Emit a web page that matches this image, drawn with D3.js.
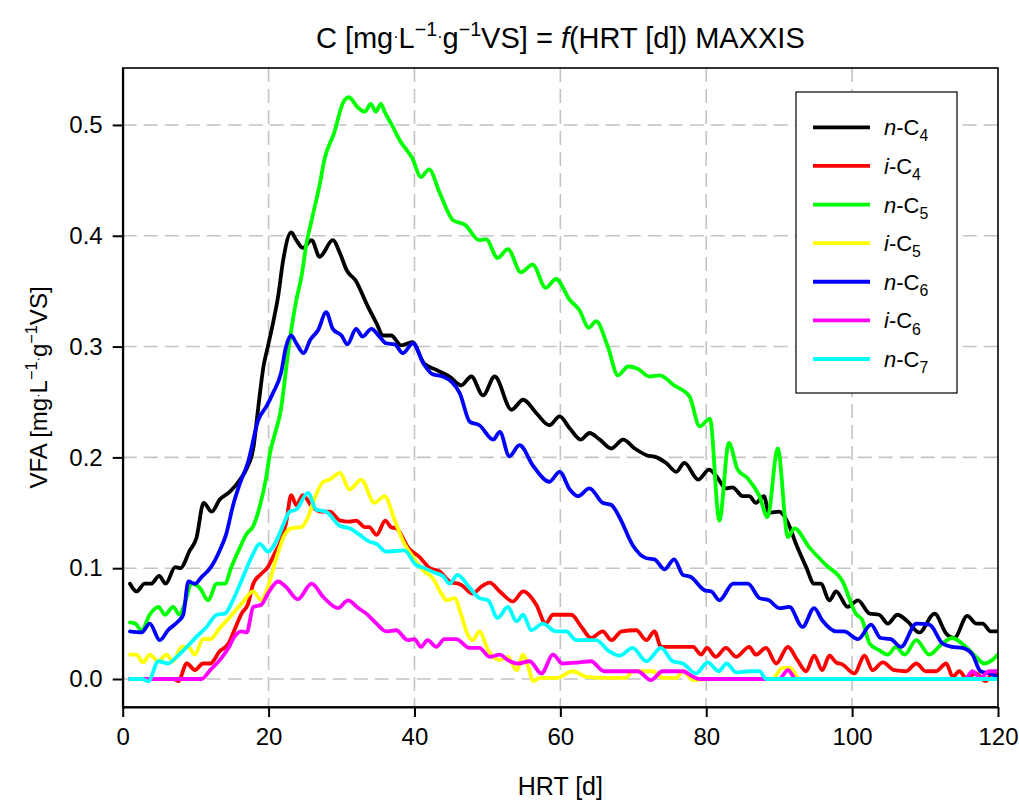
<!DOCTYPE html>
<html>
<head>
<meta charset="utf-8">
<title>VFA vs HRT</title>
<script src="https://d3js.org/d3.v7.min.js"></script>
<style>
  body { margin: 0; background: #fff; }
  svg { display: block; font-family: "Liberation Sans", Arial, sans-serif; }
  .grid line { stroke: #c4c4c4; stroke-width: 1.6; stroke-dasharray: 14,7; }
  .axis text { font-size: 24px; fill: #000; }
  .axis line, .axis path { stroke: #000; stroke-width: 2; }
  .serie { fill: none; stroke-width: 3.8; stroke-linejoin: round; stroke-linecap: round; }
</style>
</head>
<body>
<svg id="chart" width="1019" height="801"></svg>
<script>
// ---- datos: [HRT (d), C (mg/L/gVS)] ----
const nC4 = [[1,.086],[1.9,.079],[3,.086],[3.9,.086],[5,.093],[5.9,.086],[7.2,.101],[7.9,.100],[9.2,.116],[10.1,.127],[11.1,.159],[12.2,.151],[13.3,.162],[14.7,.169],[16.1,.180],[17,.190],[17.9,.208],[18.6,.246],[19.3,.282],[19.9,.300],[20.6,.321],[21.3,.345],[22,.378],[23.1,.403],[23.8,.396],[24.7,.389],[25.9,.396],[27,.381],[28.8,.396],[29.8,.384],[30.7,.369],[32,.359],[33.4,.339],[34.8,.321],[35.7,.310],[36.8,.310],[38.2,.301],[39.7,.304],[41.3,.285],[43,.279],[44.8,.273],[46.4,.265],[47.8,.273],[49.4,.256],[51,.273],[53.3,.243],[54.9,.252],[56.7,.240],[58.5,.229],[59.9,.237],[61.3,.226],[62.8,.216],[64,.222],[65.4,.216],[67,.208],[68.6,.216],[70.2,.208],[71.8,.202],[73.2,.200],[74.5,.195],[75.9,.187],[77,.195],[78.9,.180],[80.4,.189],[81.4,.183],[82.7,.172],[83.6,.173],[85,.165],[85.9,.165],[86.8,.159],[87.9,.165],[88.6,.150],[90,.151],[91.2,.141],[92.3,.122],[93.7,.101],[94.8,.086],[95.7,.086],[96.9,.071],[97.8,.079],[99.4,.065],[100.8,.071],[102.4,.059],[103.7,.058],[104.9,.050],[106.2,.058],[107.6,.052],[109.2,.042],[111.3,.059],[112.9,.041],[114,.037],[115.8,.057],[117,.050],[117.9,.050],[119,.043],[120,.043]];
const iC4 = [[1,0],[7,0],[7.6,-.002],[8.8,.014],[9.9,.008],[11,.014],[12,.014],[13.3,.025],[14.5,.032],[15.3,.044],[16.3,.059],[17.2,.068],[17.9,.086],[19,.095],[19.9,.101],[20.8,.113],[21.7,.125],[22.4,.141],[23.1,.166],[23.8,.157],[24.7,.166],[25.9,.156],[27.2,.151],[28.4,.151],[29.8,.143],[31.1,.142],[32,.143],[33.2,.137],[33.8,.137],[34.8,.130],[36,.143],[36.8,.137],[37.5,.136],[39.2,.118],[40.7,.110],[42.1,.100],[43.5,.097],[44.8,.088],[46.4,.085],[48,.077],[49.1,.083],[50.3,.087],[51.7,.079],[53.5,.070],[54.9,.079],[56.7,.067],[58,.050],[59,.058],[60.3,.058],[61.5,.058],[62.9,.047],[64.2,.037],[65.8,.043],[67,.035],[68.4,.043],[70.4,.044],[71.8,.035],[72.9,.043],[73.8,.029],[75.4,.029],[77.2,.029],[78.2,.029],[79.3,.022],[80.1,.028],[81.3,.020],[82.7,.028],[84.1,.020],[85.9,.029],[86.8,.022],[88.2,.028],[89.6,.014],[91.2,.029],[92.5,.017],[93.7,.007],[94.8,.021],[95.9,.008],[96.9,.021],[97.8,.015],[98.7,.013],[100.3,.005],[101.7,.021],[102.8,.008],[104.2,.015],[105.8,.008],[107.4,.007],[108.8,.014],[110.1,.007],[111.5,.007],[112.9,.014],[113.8,.002],[114.7,.007],[115.6,.001],[117,.005],[118.3,-.002],[119.2,.005],[120,.005]];
const nC5 = [[1,.051],[1.7,.050],[2.6,.044],[3.7,.058],[4.9,.065],[5.8,.058],[6.9,.065],[7.8,.058],[8.5,.068],[9.4,.086],[10.6,.082],[11.7,.071],[12.9,.086],[14,.086],[14.9,.101],[16.1,.119],[17,.131],[17.9,.138],[18.8,.156],[19.7,.183],[20.2,.204],[20.9,.222],[21.6,.240],[22.9,.306],[23.8,.342],[24.5,.363],[25.2,.393],[25.9,.414],[27,.446],[27.7,.470],[29,.493],[30.2,.520],[31,.525],[32.2,.516],[33.2,.512],[34,.519],[34.7,.512],[35.4,.519],[35.9,.512],[36.9,.500],[38,.486],[39.7,.470],[40.9,.453],[42,.460],[43.5,.438],[45.3,.414],[46.9,.410],[48.9,.396],[49.8,.397],[51.4,.380],[52.8,.388],[54.6,.367],[56.2,.374],[58,.353],[59.4,.361],[61.3,.342],[62.6,.333],[63.9,.317],[64.9,.323],[66.5,.300],[67.9,.274],[69.3,.282],[70.6,.280],[72.2,.273],[73.6,.274],[75.6,.265],[77.7,.255],[79.1,.228],[80.5,.235],[81.8,.143],[83.1,.213],[84.3,.189],[85.7,.181],[87.3,.165],[88.4,.146],[89.8,.208],[91.2,.128],[92.1,.136],[94.1,.119],[96.4,.103],[98.7,.088],[100.5,.059],[101.4,.053],[102.4,.032],[103.7,.026],[104.9,.022],[106,.029],[107.2,.022],[108.8,.035],[110.6,.022],[112.2,.031],[113.7,.037],[115.6,.029],[117,.020],[118.1,.014],[119.2,.017],[120,.022]];
const iC5 = [[1,.022],[1.9,.022],[2.8,.015],[3.7,.022],[4.9,.016],[6,.022],[6.9,.016],[8.1,.029],[9,.029],[9.9,.022],[11,.036],[12,.036],[13.3,.046],[14.7,.056],[16.3,.068],[17.9,.079],[19,.071],[19.9,.083],[21.1,.110],[22.2,.130],[23.1,.136],[24.5,.137],[25.4,.146],[26.3,.163],[27.5,.178],[28.4,.180],[29.8,.186],[31.1,.171],[32.7,.180],[34.5,.159],[35.9,.165],[37.3,.143],[38.4,.125],[39.8,.110],[41.2,.098],[42.5,.091],[43.7,.077],[44.4,.071],[45.5,.073],[46.4,.058],[47.3,.040],[48,.035],[48.9,.043],[50.1,.026],[51.7,.017],[52.8,.020],[54,.008],[54.9,.022],[55.6,.011],[56.3,-.002],[57.2,.001],[59.5,.001],[61.7,.007],[63.6,.002],[66,.001],[69,.001],[69.9,.007],[72.7,.007],[74,.001],[75.9,.001],[76.8,.007],[78.2,-.001],[80,0],[89,0],[90.5,.010],[91.5,.010],[92.8,0],[120,0]];
const nC6 = [[1,.043],[2.6,.042],[3.7,.050],[5.1,.035],[6.2,.044],[7.6,.052],[8.3,.058],[9,.088],[9.9,.086],[10.8,.092],[12,.100],[13.3,.116],[14.2,.131],[15.1,.156],[16.1,.177],[17.2,.196],[18.6,.234],[19.7,.246],[20.6,.258],[21.7,.276],[22.4,.300],[23.1,.310],[23.8,.303],[24.8,.294],[25.7,.306],[26.8,.315],[27.9,.331],[28.8,.316],[30,.310],[30.8,.302],[32,.316],[32.9,.309],[34.1,.316],[35.2,.309],[36.1,.303],[37.3,.302],[38.4,.294],[39.8,.303],[41.2,.285],[42.5,.275],[43.9,.273],[46.2,.258],[47.6,.232],[48.9,.229],[50.8,.216],[51.7,.223],[53,.201],[54.4,.211],[56.3,.192],[58.5,.178],[59.9,.187],[61.3,.171],[62.4,.165],[64,.172],[65.8,.159],[67,.157],[68.1,.146],[69.9,.121],[71.8,.109],[72.9,.108],[74.3,.099],[75.6,.108],[76.8,.094],[77.9,.092],[79.8,.080],[80.7,.079],[81.8,.071],[83.7,.086],[85.7,.086],[87.3,.073],[88.6,.071],[90,.064],[91.4,.065],[93.2,.047],[94.8,.064],[95.9,.053],[97.8,.043],[98.9,.043],[100.8,.036],[102.6,.049],[103.9,.037],[105.3,.036],[106.7,.029],[108.8,.050],[110.6,.049],[112.4,.032],[113.7,.029],[115.1,.028],[116.5,.022],[117.6,.007],[118.8,.005],[120,.002]];
const iC6 = [[1,0],[10.8,0],[12,.008],[13.3,.017],[14.5,.028],[15.3,.038],[16.3,.043],[17,.042],[17.9,.065],[19,.067],[19.9,.077],[21.3,.088],[22.4,.083],[24,.072],[25.9,.086],[27.5,.074],[29.5,.064],[30.9,.071],[32.3,.064],[33.4,.059],[34.8,.050],[36.1,.043],[37.5,.044],[39.1,.035],[40,.036],[40.9,.029],[41.8,.035],[43,.029],[44.1,.036],[45.7,.036],[47.6,.028],[48.9,.028],[50.3,.020],[51.7,.022],[52.8,.017],[54.2,.014],[55.8,.016],[57.4,.005],[59,.022],[60.3,.014],[62.6,.015],[64.2,.016],[66,.007],[68.1,.007],[70.6,.007],[72.4,-.001],[74,.007],[76.8,.007],[78.2,.002],[79.1,0],[90,0],[91.2,.008],[92.3,0],[115.5,0],[116.5,.007],[117.6,.001],[118.8,.007],[120,.007]];
const nC7 = [[1,0],[2.6,0],[3.5,-.002],[4.9,.016],[6.2,.014],[7.4,.020],[8.8,.029],[10.1,.038],[11.5,.047],[12.9,.058],[14,.059],[15.1,.071],[16.3,.089],[17.6,.109],[18.8,.122],[19.9,.115],[21.1,.125],[22,.139],[22.9,.151],[23.8,.153],[25.4,.168],[26.5,.153],[27.9,.151],[29.8,.138],[31.1,.136],[32.5,.130],[33.8,.124],[34.8,.122],[36.1,.115],[38.6,.116],[40.2,.103],[41.4,.100],[42.7,.096],[43.9,.093],[44.8,.086],[45.9,.094],[47.6,.082],[48.9,.073],[50.1,.071],[51.4,.055],[52.8,.065],[54,.052],[54.9,.058],[56,.044],[57.6,.050],[59.4,.043],[60.8,.043],[62.2,.035],[64.9,.035],[66.7,.025],[68.1,.021],[69.9,.028],[71.8,.016],[73.8,.028],[75.4,.016],[76.8,.014],[78.6,.005],[80.2,.015],[81.7,.007],[82.8,.014],[84.1,.006],[85.9,.007],[87.3,.007],[88.2,0],[120,0]];

const prefijos = ["n", "i", "n", "i", "n", "i", "n"];
const carbonos = ["4", "4", "5", "5", "6", "6", "7"];
const colores  = ["#000000", "#ff0000", "#00ff00", "#ffff00", "#0000ff", "#ff00ff", "#00ffff"];
const series   = [nC4, iC4, nC5, iC5, nC6, iC6, nC7];

const xTicks = [0, 20, 40, 60, 80, 100, 120];
const yTicks = [0, 0.1, 0.2, 0.3, 0.4, 0.5];

// ---- layout ----
const m = { left: 122.7, right: 998, top: 68, bottom: 707 };
const svg = d3.select("#chart");

const x = d3.scaleLinear().domain([0, 120]).range([m.left, m.right]);
const y = d3.scaleLinear().domain([-0.02527, 0.5514]).range([m.bottom, m.top]);

// texto con super/subindices (tspans con dy)
function rich(sel, parts, size) {
  let off = 0;
  parts.forEach(p => {
    const ts = sel.append("tspan").text(p.t);
    let target = 0, fs = size;
    if (p.sup) { target = -size * 0.42; fs = size * 0.68; }
    if (p.sub) { target = size * 0.28; fs = size * 0.72; }
    if (p.dot) { fs = size * 0.55; target = -size * 0.22; }
    ts.attr("dy", target - off).attr("font-size", fs);
    if (p.it) ts.attr("font-style", "italic");
    off = target;
  });
}

// grid
const grid = svg.append("g").attr("class", "grid");
grid.selectAll(".gx").data(xTicks.slice(1, -1)).join("line")
  .attr("x1", d => x(d)).attr("x2", d => x(d))
  .attr("y1", m.top).attr("y2", m.bottom);
grid.selectAll(".gy").data(yTicks).join("line")
  .attr("x1", m.left).attr("x2", m.right)
  .attr("y1", d => y(d)).attr("y2", d => y(d));

// series
svg.append("clipPath").attr("id", "clip").append("rect")
  .attr("x", m.left).attr("y", m.top)
  .attr("width", m.right - m.left).attr("height", m.bottom - m.top);

// monotona: sin sobreimpulsos en los tramos planos en cero
const line = d3.line()
  .x(d => x(d[0])).y(d => y(d[1]))
  .curve(d3.curveMonotoneX);

svg.append("g").attr("clip-path", "url(#clip)")
  .selectAll("path").data(series).join("path")
  .attr("class", "serie")
  .attr("stroke", (d, i) => colores[i])
  .attr("d", line);

// caja
svg.append("rect")
  .attr("x", m.left).attr("y", m.top)
  .attr("width", m.right - m.left).attr("height", m.bottom - m.top)
  .attr("fill", "none").attr("stroke", "#000").attr("stroke-width", 1.6);

// ejes
svg.append("g").attr("class", "axis")
  .attr("transform", `translate(0,${m.bottom})`)
  .call(d3.axisBottom(x).tickValues(xTicks).tickSize(10).tickSizeOuter(0).tickPadding(8))
  .call(g => g.selectAll("text").attr("dy", "0.85em"));

svg.append("g").attr("class", "axis")
  .attr("transform", `translate(${m.left},0)`)
  .call(d3.axisLeft(y).tickValues(yTicks).tickFormat(d3.format(".1f")).tickSize(10).tickSizeOuter(0).tickPadding(10));

// titulo
const titulo = svg.append("text")
  .attr("x", (m.left + m.right) / 2).attr("y", 48)
  .attr("text-anchor", "middle").attr("font-size", 29);
rich(titulo, [
  { t: "C [mg" }, { t: "·", dot: true }, { t: "L" }, { t: "\u22121", sup: true },
  { t: "·", dot: true }, { t: "g" }, { t: "\u22121", sup: true }, { t: "VS] = " },
  { t: "f", it: true }, { t: "(HRT [d]) MAXXIS" }
], 29);

// etiquetas de ejes
svg.append("text")
  .attr("x", (m.left + m.right) / 2).attr("y", 795)
  .attr("text-anchor", "middle").attr("font-size", 25)
  .text("HRT [d]");

const ylab = svg.append("text")
  .attr("transform", `translate(47,${(m.top + m.bottom) / 2}) rotate(-90)`)
  .attr("text-anchor", "middle").attr("font-size", 24);
rich(ylab, [
  { t: "VFA [mg" }, { t: "·", dot: true }, { t: "L" }, { t: "\u22121", sup: true },
  { t: "·", dot: true }, { t: "g" }, { t: "\u22121", sup: true }, { t: "VS]" }
], 24);

// leyenda
const leg = svg.append("g");
leg.append("rect")
  .attr("x", 796).attr("y", 92).attr("width", 161).attr("height", 301)
  .attr("fill", "#fff").attr("stroke", "#000").attr("stroke-width", 1.2);

const ly = d3.scalePoint().domain(d3.range(7)).range([127.3, 359]);
const items = leg.selectAll(".it").data(d3.range(7)).join("g")
  .attr("transform", i => `translate(0,${ly(i)})`);
items.append("line")
  .attr("x1", 813).attr("x2", 870)
  .attr("stroke", i => colores[i]).attr("stroke-width", 3.8);
items.append("text")
  .attr("x", 884).attr("y", 8)
  .each(function (i) {
    rich(d3.select(this), [
      { t: prefijos[i], it: true }, { t: "-C" }, { t: carbonos[i], sub: true }
    ], 22);
  });
</script>
</body>
</html>
